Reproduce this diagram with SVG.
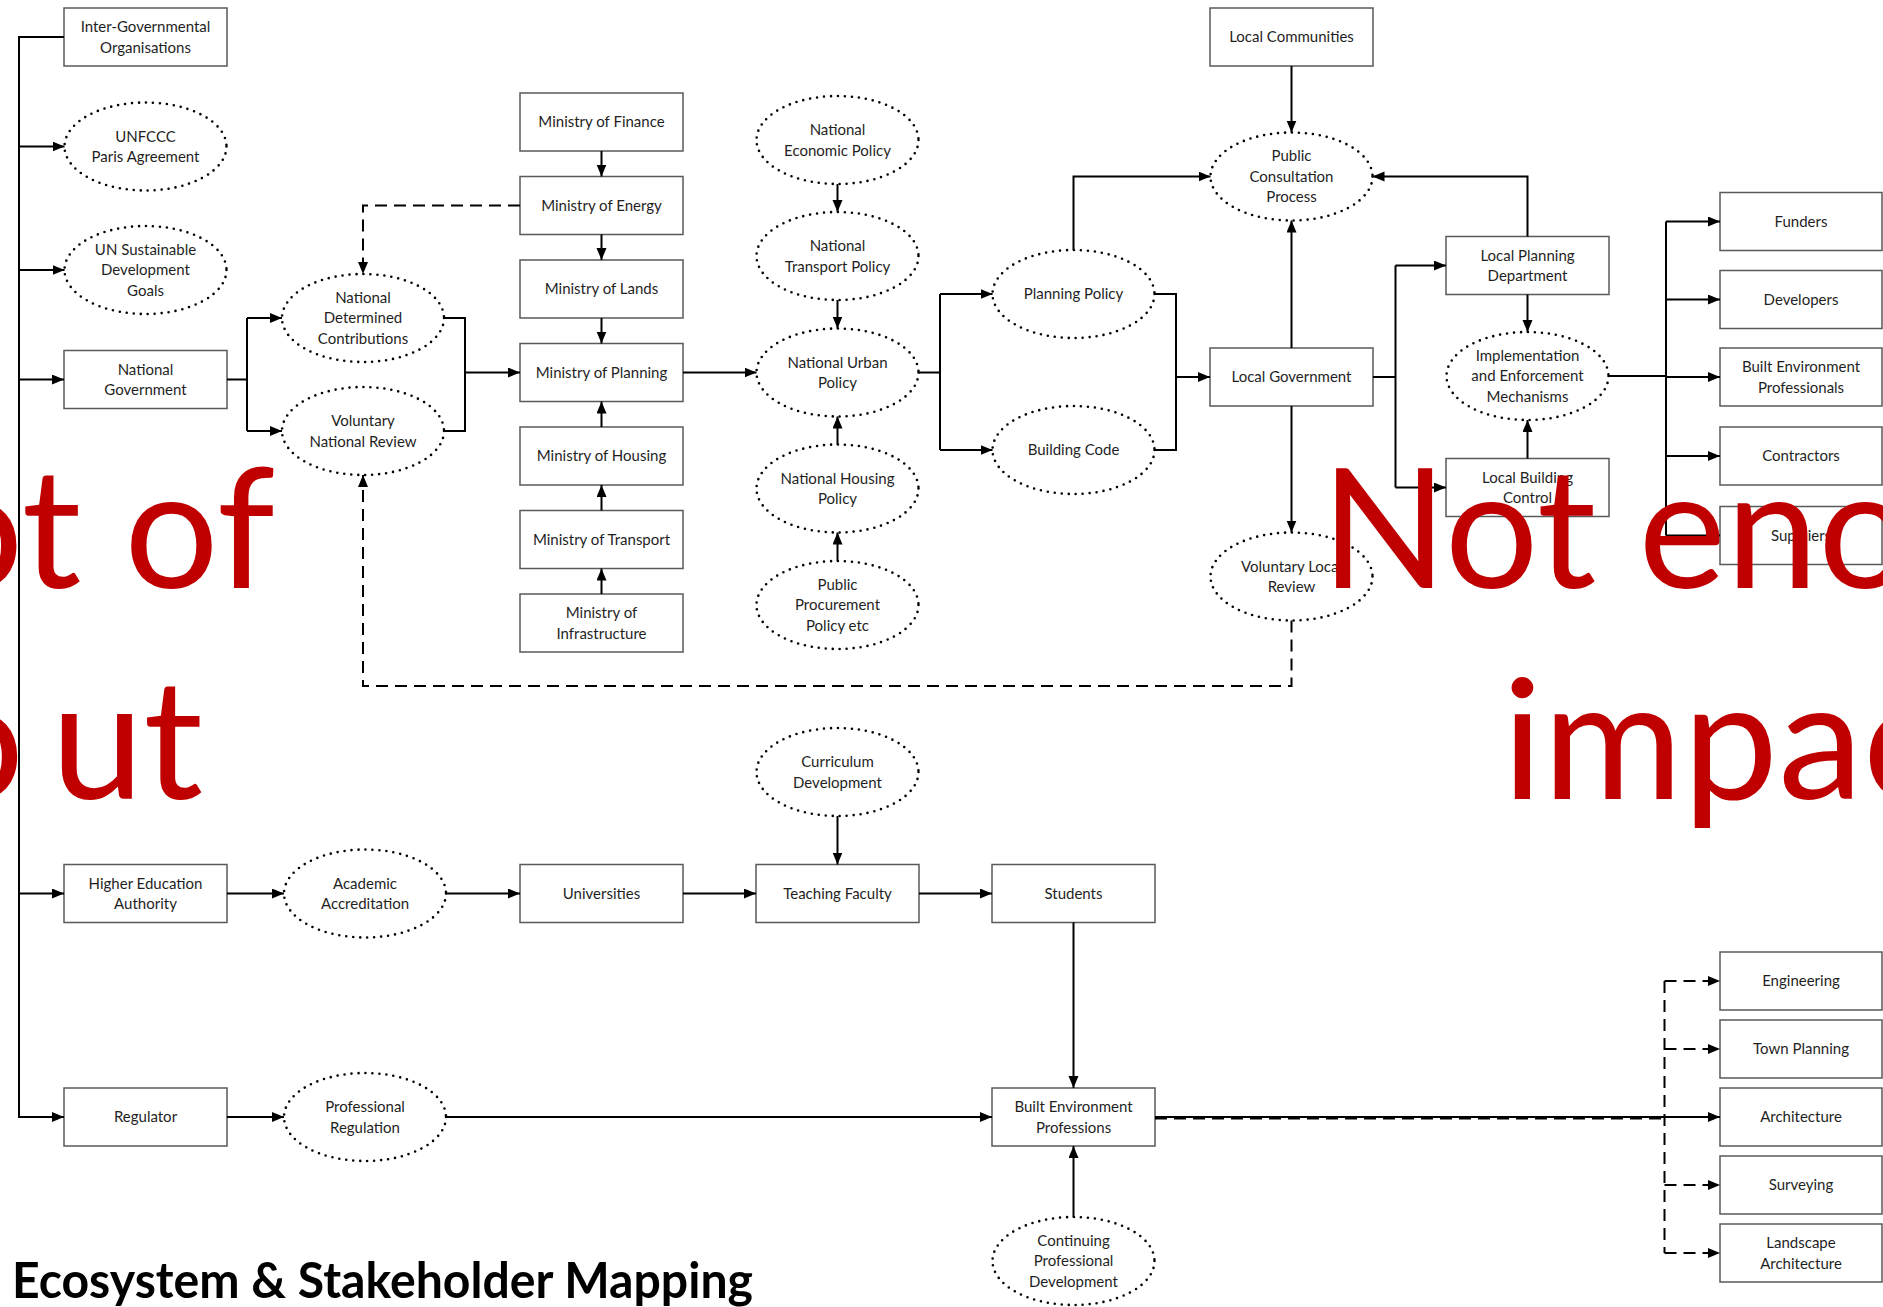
<svg xmlns="http://www.w3.org/2000/svg" width="1883" height="1307" viewBox="0 0 1883 1307">
<defs>
<marker id="arr" markerUnits="userSpaceOnUse" markerWidth="13" markerHeight="11" refX="12" refY="5" orient="auto"><path d="M0,0 L12,5 L0,10 z" fill="#000"/></marker>
<style>
.box{fill:#fff;stroke:#595959;stroke-width:1.5}
.ell{fill:#fff;stroke:#000;stroke-width:2.6;stroke-dasharray:0 7;stroke-linecap:round}
.lbl{font-family:Lato,"Liberation Sans",sans-serif;font-size:15px;fill:#1f1f1f;text-anchor:middle}
.c{fill:none;stroke:#000;stroke-width:2}
.m{marker-end:url(#arr)}
.d{stroke-dasharray:12 7}
.red{font-family:Lato,"Open Sans",sans-serif;font-size:166px;fill:#C00000}
.ttl{font-family:Lato,"Liberation Sans",sans-serif;font-weight:bold;font-size:50px;fill:#000}
</style>
</defs>
<rect width="1883" height="1307" fill="#fff"/>

<g id="nodes">
<g id="igo"><rect class="box" x="64" y="8" width="163" height="58"/><text class="lbl" x="145.5" y="32">Inter-Governmental</text><text class="lbl" x="145.5" y="52.5">Organisations</text></g>
<g id="unfccc"><ellipse class="ell" cx="145.5" cy="146.5" rx="81" ry="44"/><text class="lbl" x="145.5" y="141.5">UNFCCC</text><text class="lbl" x="145.5" y="162">Paris Agreement</text></g>
<g id="unsdg"><ellipse class="ell" cx="145.5" cy="270" rx="81" ry="44"/><text class="lbl" x="145.5" y="254.5">UN Sustainable</text><text class="lbl" x="145.5" y="275">Development</text><text class="lbl" x="145.5" y="295.5">Goals</text></g>
<g id="natgov"><rect class="box" x="64" y="350.5" width="163" height="58"/><text class="lbl" x="145.5" y="374.5">National</text><text class="lbl" x="145.5" y="395">Government</text></g>
<g id="ndc"><ellipse class="ell" cx="363" cy="318" rx="81" ry="44"/><text class="lbl" x="363" y="302.5">National</text><text class="lbl" x="363" y="323">Determined</text><text class="lbl" x="363" y="343.5">Contributions</text></g>
<g id="vnr"><ellipse class="ell" cx="363" cy="431" rx="81" ry="44"/><text class="lbl" x="363" y="426">Voluntary</text><text class="lbl" x="363" y="446.5">National Review</text></g>

<g id="finance"><rect class="box" x="520" y="93" width="163" height="58"/><text class="lbl" x="601.5" y="127">Ministry of Finance</text></g>
<g id="energy"><rect class="box" x="520" y="176.5" width="163" height="58"/><text class="lbl" x="601.5" y="210.5">Ministry of Energy</text></g>
<g id="lands"><rect class="box" x="520" y="260" width="163" height="58"/><text class="lbl" x="601.5" y="294">Ministry of Lands</text></g>
<g id="planning"><rect class="box" x="520" y="343.5" width="163" height="58"/><text class="lbl" x="601.5" y="377.5">Ministry of Planning</text></g>
<g id="housing"><rect class="box" x="520" y="427" width="163" height="58"/><text class="lbl" x="601.5" y="461">Ministry of Housing</text></g>
<g id="transport"><rect class="box" x="520" y="510.5" width="163" height="58"/><text class="lbl" x="601.5" y="544.5">Ministry of Transport</text></g>
<g id="infra"><rect class="box" x="520" y="594" width="163" height="58"/><text class="lbl" x="601.5" y="618">Ministry of</text><text class="lbl" x="601.5" y="638.5">Infrastructure</text></g>

<g id="econpol"><ellipse class="ell" cx="837.5" cy="140" rx="81" ry="44"/><text class="lbl" x="837.5" y="135">National</text><text class="lbl" x="837.5" y="155.5">Economic Policy</text></g>
<g id="transpol"><ellipse class="ell" cx="837.5" cy="256" rx="81" ry="44"/><text class="lbl" x="837.5" y="251">National</text><text class="lbl" x="837.5" y="271.5">Transport Policy</text></g>
<g id="urbanpol"><ellipse class="ell" cx="837.5" cy="372.5" rx="81" ry="44"/><text class="lbl" x="837.5" y="367.5">National Urban</text><text class="lbl" x="837.5" y="388">Policy</text></g>
<g id="housepol"><ellipse class="ell" cx="837.5" cy="488.5" rx="81" ry="44"/><text class="lbl" x="837.5" y="483.5">National Housing</text><text class="lbl" x="837.5" y="504">Policy</text></g>
<g id="procure"><ellipse class="ell" cx="837.5" cy="605" rx="81" ry="44"/><text class="lbl" x="837.5" y="589.5">Public</text><text class="lbl" x="837.5" y="610">Procurement</text><text class="lbl" x="837.5" y="630.5">Policy etc</text></g>

<g id="planpol"><ellipse class="ell" cx="1073.5" cy="294" rx="81" ry="44"/><text class="lbl" x="1073.5" y="299">Planning Policy</text></g>
<g id="bcode"><ellipse class="ell" cx="1073.5" cy="450" rx="81" ry="44"/><text class="lbl" x="1073.5" y="455">Building Code</text></g>
<g id="localcomm"><rect class="box" x="1210" y="8" width="163" height="58"/><text class="lbl" x="1291.5" y="42">Local Communities</text></g>
<g id="pcp"><ellipse class="ell" cx="1291.5" cy="176.5" rx="81" ry="44"/><text class="lbl" x="1291.5" y="161">Public</text><text class="lbl" x="1291.5" y="181.5">Consultation</text><text class="lbl" x="1291.5" y="202">Process</text></g>
<g id="localgov"><rect class="box" x="1210" y="348" width="163" height="58"/><text class="lbl" x="1291.5" y="382">Local Government</text></g>
<g id="vlr"><ellipse class="ell" cx="1291.5" cy="576.5" rx="81" ry="44"/><text class="lbl" x="1291.5" y="571.5">Voluntary Local</text><text class="lbl" x="1291.5" y="592">Review</text></g>
<g id="lpd"><rect class="box" x="1446" y="236.5" width="163" height="58"/><text class="lbl" x="1527.5" y="260.5">Local Planning</text><text class="lbl" x="1527.5" y="281">Department</text></g>
<g id="impl"><ellipse class="ell" cx="1527.5" cy="376" rx="81" ry="44"/><text class="lbl" x="1527.5" y="360.5">Implementation</text><text class="lbl" x="1527.5" y="381">and Enforcement</text><text class="lbl" x="1527.5" y="401.5">Mechanisms</text></g>
<g id="lbc"><rect class="box" x="1446" y="458.5" width="163" height="58"/><text class="lbl" x="1527.5" y="482.5">Local Building</text><text class="lbl" x="1527.5" y="503">Control</text></g>

<g id="funders"><rect class="box" x="1720" y="192.5" width="162" height="58"/><text class="lbl" x="1801" y="226.5">Funders</text></g>
<g id="developers"><rect class="box" x="1720" y="270.5" width="162" height="58"/><text class="lbl" x="1801" y="304.5">Developers</text></g>
<g id="bep"><rect class="box" x="1720" y="348" width="162" height="58"/><text class="lbl" x="1801" y="372">Built Environment</text><text class="lbl" x="1801" y="392.5">Professionals</text></g>
<g id="contractors"><rect class="box" x="1720" y="427" width="162" height="58"/><text class="lbl" x="1801" y="461">Contractors</text></g>
<g id="suppliers"><rect class="box" x="1720" y="506.5" width="162" height="58"/><text class="lbl" x="1801" y="540.5">Suppliers</text></g>

<g id="curric"><ellipse class="ell" cx="837.5" cy="772" rx="81" ry="44"/><text class="lbl" x="837.5" y="767">Curriculum</text><text class="lbl" x="837.5" y="787.5">Development</text></g>
<g id="hea"><rect class="box" x="64" y="864.5" width="163" height="58"/><text class="lbl" x="145.5" y="888.5">Higher Education</text><text class="lbl" x="145.5" y="909">Authority</text></g>
<g id="acad"><ellipse class="ell" cx="365" cy="893.5" rx="81" ry="44"/><text class="lbl" x="365" y="888.5">Academic</text><text class="lbl" x="365" y="909">Accreditation</text></g>
<g id="univ"><rect class="box" x="520" y="864.5" width="163" height="58"/><text class="lbl" x="601.5" y="898.5">Universities</text></g>
<g id="teaching"><rect class="box" x="756" y="864.5" width="163" height="58"/><text class="lbl" x="837.5" y="898.5">Teaching Faculty</text></g>
<g id="students"><rect class="box" x="992" y="864.5" width="163" height="58"/><text class="lbl" x="1073.5" y="898.5">Students</text></g>
<g id="regulator"><rect class="box" x="64" y="1088" width="163" height="58"/><text class="lbl" x="145.5" y="1122">Regulator</text></g>
<g id="profreg"><ellipse class="ell" cx="365" cy="1117" rx="81" ry="44"/><text class="lbl" x="365" y="1112">Professional</text><text class="lbl" x="365" y="1132.5">Regulation</text></g>
<g id="beprof"><rect class="box" x="992" y="1088" width="163" height="58"/><text class="lbl" x="1073.5" y="1112">Built Environment</text><text class="lbl" x="1073.5" y="1132.5">Professions</text></g>
<g id="cpd"><ellipse class="ell" cx="1073.5" cy="1261" rx="81" ry="44"/><text class="lbl" x="1073.5" y="1245.5">Continuing</text><text class="lbl" x="1073.5" y="1266">Professional</text><text class="lbl" x="1073.5" y="1286.5">Development</text></g>
<g id="engineering"><rect class="box" x="1720" y="952" width="162" height="58"/><text class="lbl" x="1801" y="986">Engineering</text></g>
<g id="townplan"><rect class="box" x="1720" y="1020" width="162" height="58"/><text class="lbl" x="1801" y="1054">Town Planning</text></g>
<g id="architecture"><rect class="box" x="1720" y="1088" width="162" height="58"/><text class="lbl" x="1801" y="1122">Architecture</text></g>
<g id="surveying"><rect class="box" x="1720" y="1156" width="162" height="58"/><text class="lbl" x="1801" y="1190">Surveying</text></g>
<g id="landscape"><rect class="box" x="1720" y="1224" width="162" height="58"/><text class="lbl" x="1801" y="1248">Landscape</text><text class="lbl" x="1801" y="1268.5">Architecture</text></g>
</g>

<g id="connectors">
<path class="c m" d="M64,37 H19 V1117 H64"/>
<path class="c m" d="M19,146.5 H64.5"/>
<path class="c m" d="M19,270 H64.5"/>
<path class="c m" d="M19,379.5 H64"/>
<path class="c m" d="M19,893.5 H64"/>
<path class="c" d="M227,379.5 H247 M247,318 V431"/>
<path class="c m" d="M247,318 H282"/>
<path class="c m" d="M247,431 H282"/>
<path class="c" d="M444,318 H465 V431 H444"/>
<path class="c m" d="M465,372.5 H520"/>
<path class="c d m" d="M520,205.5 H363 V274"/>
<path class="c m" d="M601.5,151 V176.5"/>
<path class="c m" d="M601.5,234.5 V260"/>
<path class="c m" d="M601.5,318 V343.5"/>
<path class="c m" d="M601.5,427 V401.5"/>
<path class="c m" d="M601.5,510.5 V485"/>
<path class="c m" d="M601.5,594 V568.5"/>
<path class="c m" d="M683,372.5 H756.5"/>
<path class="c m" d="M837.5,184 V212"/>
<path class="c m" d="M837.5,300 V328.5"/>
<path class="c m" d="M837.5,444.5 V416.5"/>
<path class="c m" d="M837.5,561 V532.5"/>
<path class="c" d="M918.5,372.5 H940 M940,294 V450"/>
<path class="c m" d="M940,294 H992.5"/>
<path class="c m" d="M940,450 H992.5"/>
<path class="c" d="M1154.5,294 H1176 V450 H1154.5"/>
<path class="c m" d="M1176,377 H1210"/>
<path class="c m" d="M1073.5,250 V176.5 H1210.5"/>
<path class="c m" d="M1291.5,66 V132.5"/>
<path class="c m" d="M1291.5,348 V220.5"/>
<path class="c m" d="M1291.5,406 V532.5"/>
<path class="c d m" d="M1291.5,620.5 V686 H363 V475"/>
<path class="c" d="M1373,377 H1395.5 M1395.5,265.5 V487.5"/>
<path class="c m" d="M1395.5,265.5 H1446"/>
<path class="c m" d="M1395.5,487.5 H1446"/>
<path class="c m" d="M1527.5,236.5 V176.5 H1372.5"/>
<path class="c m" d="M1527.5,294.5 V332"/>
<path class="c m" d="M1527.5,458.5 V420"/>
<path class="c" d="M1608.5,376 H1666 M1666,221.5 V535.5"/>
<path class="c m" d="M1666,221.5 H1720"/>
<path class="c m" d="M1666,299.5 H1720"/>
<path class="c m" d="M1666,377 H1720"/>
<path class="c m" d="M1666,456 H1720"/>
<path class="c m" d="M1666,535.5 H1720"/>
<path class="c m" d="M837.5,816 V864.5"/>
<path class="c m" d="M227,893.5 H284"/>
<path class="c m" d="M446,893.5 H520"/>
<path class="c m" d="M683,893.5 H756"/>
<path class="c m" d="M919,893.5 H992"/>
<path class="c m" d="M1073.5,922.5 V1088"/>
<path class="c m" d="M227,1117 H284"/>
<path class="c m" d="M446,1117 H992"/>
<path class="c m" d="M1073.5,1217 V1146"/>
<path class="c m" d="M1155,1117 H1720"/>
<path class="c d" d="M1155,1118.5 H1664.5"/>
<path class="c d" d="M1664.5,981 V1253"/>
<path class="c d m" d="M1664.5,981 H1720"/>
<path class="c d m" d="M1664.5,1049 H1720"/>
<path class="c d m" d="M1664.5,1185 H1720"/>
<path class="c d m" d="M1664.5,1253 H1720"/>
</g>

<text class="ttl" x="12" y="1298" textLength="741" lengthAdjust="spacingAndGlyphs">Ecosystem &amp; Stakeholder Mapping</text>

<g id="overlay">
<text class="red" x="-71" y="588" textLength="346" lengthAdjust="spacingAndGlyphs">ot of</text>
<text class="red" y="799"><tspan x="-70">o</tspan><tspan x="51">ut</tspan></text>
<text class="red" x="1321" y="588" textLength="591" lengthAdjust="spacingAndGlyphs">Not eno</text>
<text class="red" x="1502" y="799" textLength="442" lengthAdjust="spacingAndGlyphs">impac</text>
</g>
</svg>
